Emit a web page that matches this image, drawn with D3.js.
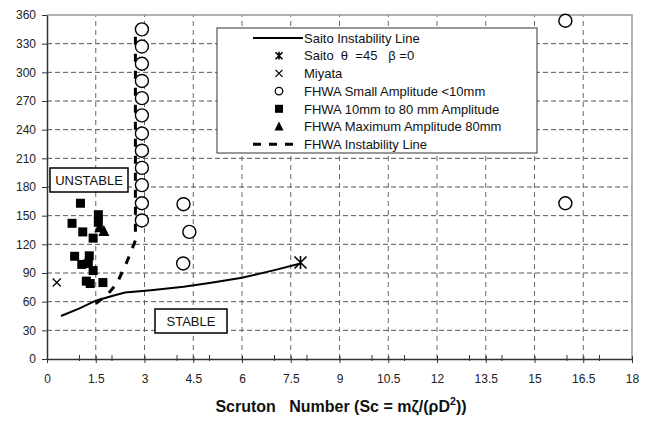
<!DOCTYPE html>
<html>
<head>
<meta charset="utf-8">
<script src="https://cdn.jsdelivr.net/npm/d3@7"></script>
<style>
  body { margin: 0; background: #fff; }
  text { font-family: "Liberation Sans", Arial, sans-serif; white-space: pre; }
</style>
</head>
<body>
<script>
var width = 656;
var height = 427;

// tick values
var xTicks = [0, 1.5, 3, 4.5, 6, 7.5, 9, 10.5, 12, 13.5, 15, 16.5, 18];
var xMinorTicks = [1, 2, 4, 5, 7, 8, 10, 11, 13, 14, 16, 17];
var yTicks = [0, 30, 60, 90, 120, 150, 180, 210, 240, 270, 300, 330, 360];

// series
var saitoLine = [
  [0.43, 45], [1.0, 53], [1.5, 61], [2.0, 66], [2.4, 69.5], [3.2, 72],
  [4.2, 75.5], [5.0, 79.5], [6.0, 85], [7.0, 93], [7.8, 100]
];
var saitoPoint = [[7.8, 101]];
var miyata = [[0.3, 80]];
var fhwaSmall = [
  [2.92, 345], [2.92, 327], [2.92, 309], [2.92, 291], [2.92, 273], [2.92, 255],
  [2.92, 236], [2.92, 218], [2.92, 200], [2.92, 182], [2.92, 163], [2.92, 145],
  [4.2, 162], [4.38, 133], [4.19, 100], [15.95, 354], [15.95, 163]
];
var fhwaMid = [
  [1.03, 163], [0.77, 142], [1.1, 133], [1.42, 126.5], [1.58, 151], [1.58, 143],
  [0.85, 107.5], [1.07, 99], [1.3, 108], [1.27, 100], [1.42, 92.5],
  [1.21, 81.5], [1.33, 79], [1.72, 80]
];
var fhwaMax = [[1.62, 138], [1.75, 134]];
var fhwaLine = [
  [1.5, 58], [1.85, 67], [2.15, 79], [2.45, 101], [2.72, 124], [2.72, 345]
];

var legendLabels = [
  'Saito Instability Line',
  'Saito  \u03b8  =45   \u03b2 =0',
  'Miyata',
  'FHWA Small Amplitude <10mm',
  'FHWA 10mm to 80 mm Amplitude',
  'FHWA Maximum Amplitude 80mm',
  'FHWA Instability Line'
];

var svg = d3.select('body').append('svg')
  .attr('width', width)
  .attr('height', height);

var x = d3.scaleLinear().domain([0, 18]).range([47, 632]);
var y = d3.scaleLinear().domain([0, 360]).range([359, 15]);

// grid
svg.append('g').selectAll('line')
  .data(yTicks.slice(1, -1))
  .enter().append('line')
  .attr('x1', x(0)).attr('x2', x(18))
  .attr('y1', function(d) { return y(d); })
  .attr('y2', function(d) { return y(d); })
  .attr('stroke', '#555').attr('stroke-width', 1)
  .attr('stroke-dasharray', '5,3');

svg.append('g').selectAll('line')
  .data(xTicks.slice(1, -1))
  .enter().append('line')
  .attr('y1', y(0)).attr('y2', y(360))
  .attr('x1', function(d) { return x(d); })
  .attr('x2', function(d) { return x(d); })
  .attr('stroke', '#666').attr('stroke-width', 1)
  .attr('stroke-dasharray', '5,4');

// frame top / right
svg.append('path')
  .attr('d', 'M' + x(0) + ',' + y(360) + 'H' + x(18) + 'V' + y(0))
  .attr('fill', 'none').attr('stroke', '#999').attr('stroke-width', 1.5);

// axes
var xAxis = svg.append('g').attr('transform', 'translate(0,' + y(0) + ')')
  .call(d3.axisBottom(x).tickValues(xTicks).tickSize(4).tickSizeOuter(0)
    .tickFormat(function(d) { return d; }));
xAxis.selectAll('.tick line').attr('y1', -3);
xAxis.append('g').selectAll('line')
  .data(xMinorTicks)
  .enter().append('line')
  .attr('x1', function(d) { return x(d); })
  .attr('x2', function(d) { return x(d); })
  .attr('y1', -4).attr('y2', 2)
  .attr('stroke', '#333');

var yAxis = svg.append('g').attr('transform', 'translate(' + x(0) + ',0)')
  .call(d3.axisLeft(y).tickValues(yTicks).tickSize(5).tickSizeOuter(0));

[xAxis, yAxis].forEach(function(a) {
  a.select('.domain').attr('stroke', '#333').attr('stroke-width', 1.5);
  a.selectAll('.tick line').attr('stroke', '#333');
  a.selectAll('.tick text')
    .attr('font-size', 12)
    .attr('fill', '#222')
    .style('font-family', '"Liberation Sans", Arial, sans-serif');
});
xAxis.selectAll('.tick text').attr('dy', '1.45em');
yAxis.selectAll('.tick text').attr('x', -11);

// lines
var line = d3.line()
  .x(function(d) { return x(d[0]); })
  .y(function(d) { return y(d[1]); });

svg.append('path')
  .datum(saitoLine)
  .attr('d', line)
  .attr('fill', 'none').attr('stroke', '#000').attr('stroke-width', 2);

svg.append('path')
  .datum(fhwaLine)
  .attr('d', line)
  .attr('fill', 'none').attr('stroke', '#000').attr('stroke-width', 3)
  .attr('stroke-dasharray', '8,9');

// markers
var star = function(g, cx, cy, s) {
  g.append('path')
    .attr('d', 'M' + (cx - s) + ',' + (cy - s) + 'L' + (cx + s) + ',' + (cy + s) +
      'M' + (cx + s) + ',' + (cy - s) + 'L' + (cx - s) + ',' + (cy + s) +
      'M' + cx + ',' + (cy - s * 1.1) + 'L' + cx + ',' + (cy + s * 1.1))
    .attr('stroke', '#000').attr('stroke-width', 1.6).attr('fill', 'none');
};
var cross = function(g, cx, cy, s) {
  g.append('path')
    .attr('d', 'M' + (cx - s) + ',' + (cy - s) + 'L' + (cx + s) + ',' + (cy + s) +
      'M' + (cx + s) + ',' + (cy - s) + 'L' + (cx - s) + ',' + (cy + s))
    .attr('stroke', '#000').attr('stroke-width', 1.3).attr('fill', 'none');
};

var marks = svg.append('g');

marks.selectAll('rect.mid')
  .data(fhwaMid)
  .enter().append('rect')
  .attr('x', function(d) { return x(d[0]) - 4.5; })
  .attr('y', function(d) { return y(d[1]) - 4.5; })
  .attr('width', 9).attr('height', 9)
  .attr('fill', '#000');

marks.selectAll('path.max')
  .data(fhwaMax)
  .enter().append('path')
  .attr('d', function(d) {
    var cx = x(d[0]), cy = y(d[1]);
    return 'M' + cx + ',' + (cy - 6) + 'L' + (cx + 5.5) + ',' + (cy + 5) + 'L' + (cx - 5.5) + ',' + (cy + 5) + 'Z';
  })
  .attr('fill', '#000');

marks.selectAll('circle')
  .data(fhwaSmall)
  .enter().append('circle')
  .attr('cx', function(d) { return x(d[0]); })
  .attr('cy', function(d) { return y(d[1]); })
  .attr('r', 6.5)
  .attr('fill', '#fff').attr('stroke', '#000').attr('stroke-width', 1.4);

saitoPoint.forEach(function(d) { star(marks, x(d[0]), y(d[1]), 6); });
miyata.forEach(function(d) { cross(marks, x(d[0]), y(d[1]), 4); });

// region labels
var boxLabel = function(text, x0, y0, w, h) {
  svg.append('rect')
    .attr('x', x0).attr('y', y0).attr('width', w).attr('height', h)
    .attr('fill', '#fff').attr('stroke', '#000').attr('stroke-width', 1.5);
  svg.append('text')
    .attr('x', x0 + w / 2).attr('y', y0 + h / 2 + 4.7)
    .attr('text-anchor', 'middle')
    .attr('font-size', 13)
    .attr('fill', '#111')
    .text(text);
};
boxLabel('UNSTABLE', 50, 168, 78, 24);
boxLabel('STABLE', 155, 309, 72, 24);

// legend
var lg = svg.append('g');
lg.append('rect')
  .attr('x', 217).attr('y', 28).attr('width', 320).attr('height', 125)
  .attr('fill', '#fff').attr('stroke', '#333').attr('stroke-width', 1);

var rowY = function(i) { return 38 + i * 17.7; };
lg.selectAll('text')
  .data(legendLabels)
  .enter().append('text')
  .attr('x', 304)
  .attr('y', function(d, i) { return rowY(i) + 4.7; })
  .attr('font-size', 13)
  .attr('fill', '#111')
  .text(function(d) { return d; });

var sx = 279;
lg.append('line').attr('x1', 253).attr('x2', 303).attr('y1', rowY(0)).attr('y2', rowY(0))
  .attr('stroke', '#000').attr('stroke-width', 2);
star(lg, sx, rowY(1), 3.5);
cross(lg, sx, rowY(2), 3.5);
lg.append('circle').attr('cx', sx).attr('cy', rowY(3)).attr('r', 3.8)
  .attr('fill', '#fff').attr('stroke', '#000').attr('stroke-width', 1.3);
lg.append('rect').attr('x', sx - 4).attr('y', rowY(4) - 4).attr('width', 8).attr('height', 8)
  .attr('fill', '#000');
lg.append('path')
  .attr('d', 'M' + sx + ',' + (rowY(5) - 5) + 'L' + (sx + 4.5) + ',' + (rowY(5) + 4) + 'L' + (sx - 4.5) + ',' + (rowY(5) + 4) + 'Z')
  .attr('fill', '#000');
lg.append('line').attr('x1', 253).attr('x2', 300).attr('y1', rowY(6)).attr('y2', rowY(6))
  .attr('stroke', '#000').attr('stroke-width', 3).attr('stroke-dasharray', '8,8');

// axis title
var title = svg.append('text')
  .attr('x', 341).attr('y', 412)
  .attr('text-anchor', 'middle')
  .attr('font-size', 16)
  .attr('font-weight', 'bold')
  .attr('fill', '#111');
title.append('tspan').text('Scruton   Number (Sc = m\u03b6/(\u03c1D');
title.append('tspan').attr('font-size', 10.5).attr('dy', -7).text('2');
title.append('tspan').attr('dy', 7).text('))');
</script>
</body>
</html>
